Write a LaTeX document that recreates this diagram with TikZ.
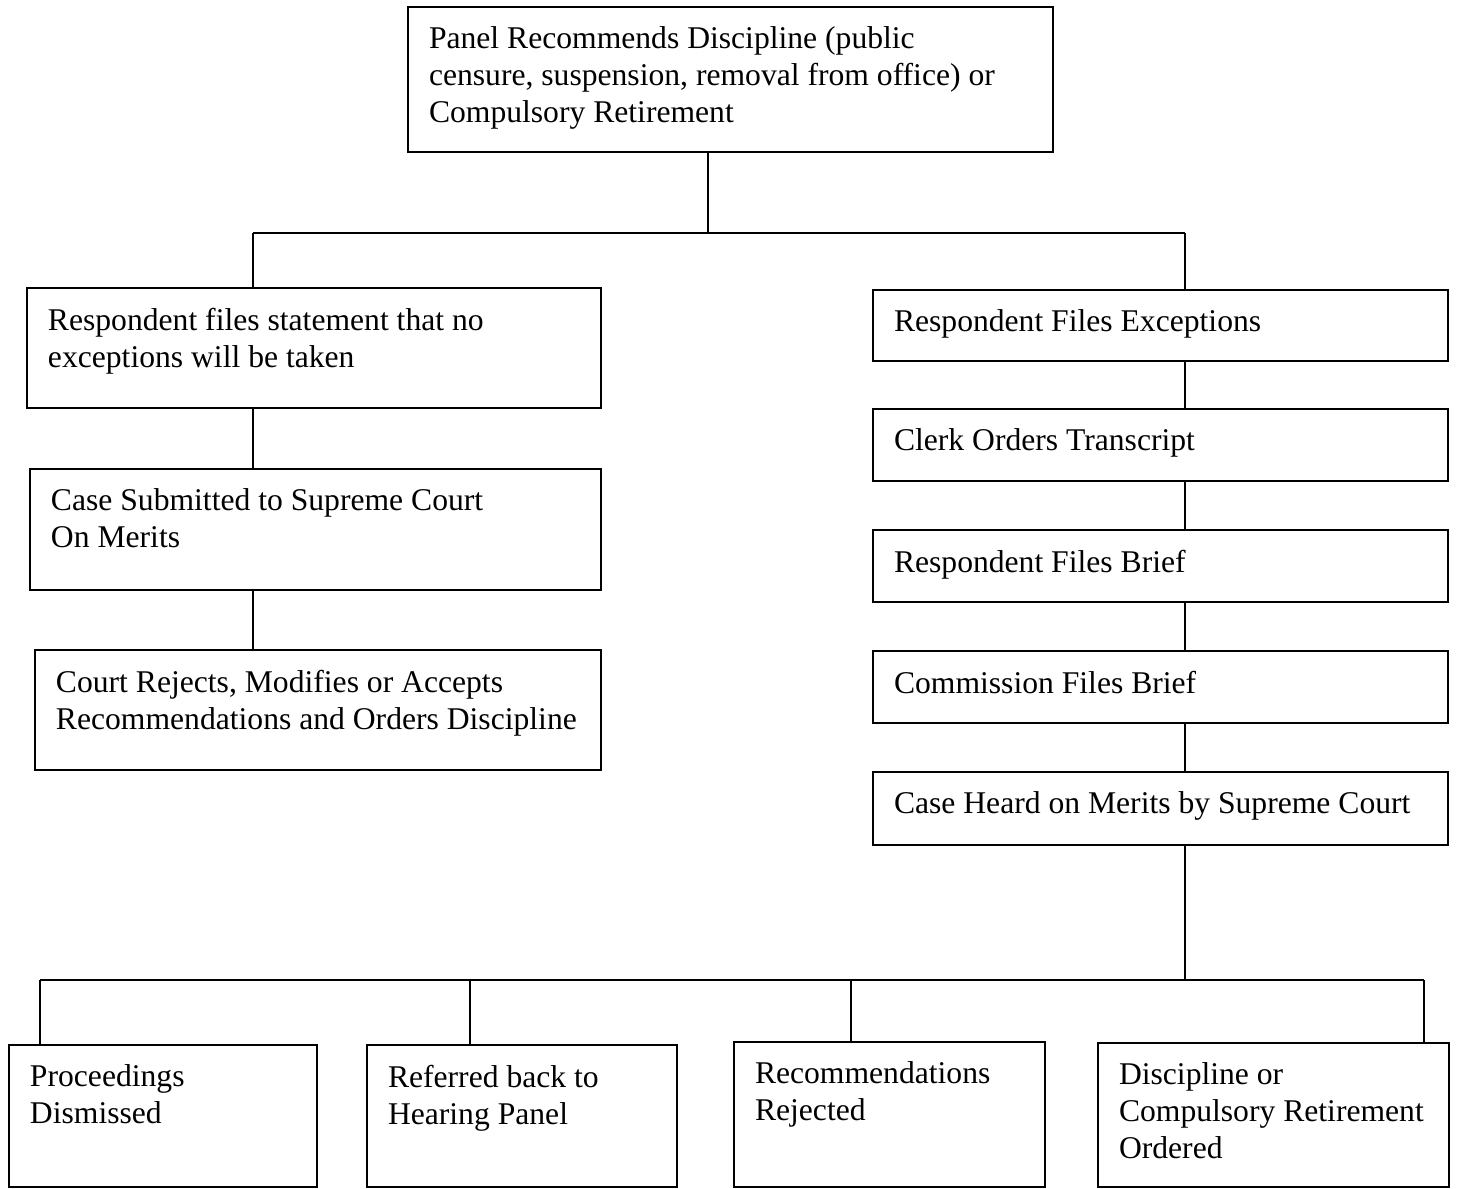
\documentclass[tikz,border=0pt]{standalone}
\usepackage{fontspec}
\setmainfont{Liberation Serif}
\usetikzlibrary{fit}

\tikzset{
    box/.style={draw, line width=1.3pt, inner sep=0pt},
    boxtext/.style={anchor=north west, align=left, inner xsep=0.42cm, inner ysep=0.40cm,
        font=\fontsize{18}{21}\selectfont}
}

\begin{document}
\begin{tikzpicture}[x=0.02cm, y=-0.02cm, line width=1.3pt]
        \useasboundingbox (0, 0) rectangle (1457, 1188);

        % top of the tree
        \node[box, fit={(408, 7) (1053, 152)}, label={[boxtext]north west:{Panel Recommends Discipline (public\\censure, suspension, removal from office) or\\Compulsory Retirement}}] (panel) {};

        % no exceptions
        \node[box, fit={(27, 288) (601, 408)}, label={[boxtext]north west:{Respondent files statement that no\\exceptions will be taken}}] (noexc) {};
        \node[box, fit={(30, 469) (601, 590)}, label={[boxtext]north west:{Case Submitted to Supreme Court\\On Merits}}] (submit) {};
        \node[box, fit={(35, 650) (601, 770)}, label={[boxtext]north west:{Court Rejects, Modifies or Accepts\\Recommendations and Orders Discipline}}] (orders) {};

        % exceptions
        \node[box, fit={(873, 290) (1448, 361)}, label={[boxtext]north west:{Respondent Files Exceptions}}] (exc) {};
        \node[box, fit={(873, 409) (1448, 481)}, label={[boxtext]north west:{Clerk Orders Transcript}}] (clerk) {};
        \node[box, fit={(873, 530) (1448, 602)}, label={[boxtext]north west:{Respondent Files Brief}}] (rbrief) {};
        \node[box, fit={(873, 651) (1448, 723)}, label={[boxtext]north west:{Commission Files Brief}}] (cbrief) {};
        \node[box, fit={(873, 772) (1448, 845)}, label={[boxtext]north west:{Case Heard on Merits by Supreme Court}}] (heard) {};

        % outcomes
        \node[box, fit={(9, 1045) (317, 1187)}, label={[boxtext]north west:{Proceedings\\Dismissed}}] (dismiss) {};
        \node[box, fit={(367, 1045) (677, 1187)}, label={[boxtext]north west:{Referred back to\\Hearing Panel}}] (referred) {};
        \node[box, fit={(734, 1042) (1045, 1187)}, label={[boxtext]north west:{Recommendations\\Rejected}}] (rejected) {};
        \node[box, fit={(1098, 1043) (1449, 1187)}, label={[boxtext]north west:{Discipline or\\Compulsory Retirement\\Ordered}}] (retire) {};

        % connectors
        \coordinate (split) at (708, 233);
        \coordinate (splitL) at (253, 233);
        \coordinate (splitR) at (1185, 233);
        \draw (panel.south -| split) -- (split);
        \draw (splitL) -- (splitR);
        \draw (splitL) -- (splitL |- noexc.north);
        \draw (splitR) -- (splitR |- exc.north);

        \draw (noexc.south -| splitL) -- (submit.north -| splitL);
        \draw (submit.south -| splitL) -- (orders.north -| splitL);

        \foreach \a/\b in {exc/clerk, clerk/rbrief, rbrief/cbrief, cbrief/heard}
            \draw (\a.south -| splitR) -- (\b.north -| splitR);

        \coordinate (join) at (1185, 980);
        \draw (heard.south -| join) -- (join);
        \draw (40, 980) -- (1424, 980);
        \foreach \b/\x in {dismiss/40, referred/470, rejected/851, retire/1424} {
            \coordinate (drop-\b) at (\x, 980);
            \draw (drop-\b) -- (drop-\b |- \b.north);
        }
    \end{tikzpicture}
\end{document}
